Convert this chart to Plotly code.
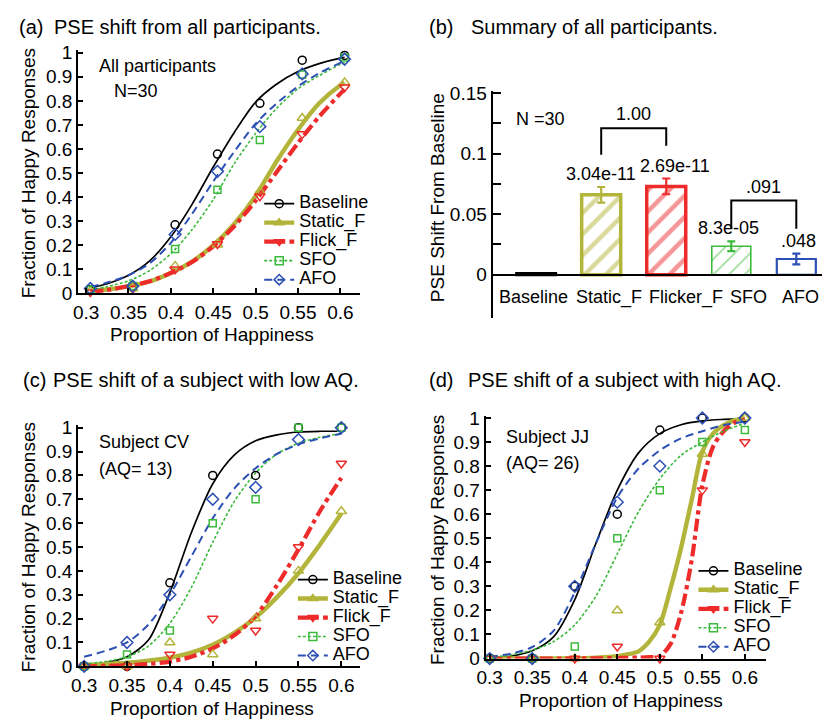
import plotly.graph_objects as go

W, H = 822, 727
FONT = "Liberation Sans, Arial, Helvetica, sans-serif"

SERIES = ["Baseline", "Static_F", "Flick_F", "SFO", "AFO"]

# ---------------- panel (a): all participants ----------------
a_x = [0.305, 0.355, 0.405, 0.455, 0.505, 0.555, 0.605]
a_baseline = [0.015, 0.03, 0.285, 0.579, 0.79, 0.969, 0.989]
a_static = [0.01, 0.02, 0.114, 0.202, 0.424, 0.729, 0.877]
a_flick = [0.005, 0.02, 0.10, 0.205, 0.404, 0.662, 0.857]
a_sfo = [0.015, 0.03, 0.184, 0.431, 0.637, 0.91, 0.98]
a_afo = [0.02, 0.03, 0.245, 0.507, 0.693, 0.912, 0.973]

a_fit_x = [0.305, 0.325, 0.35, 0.375, 0.4, 0.425, 0.45, 0.475, 0.5, 0.525, 0.55, 0.575, 0.6, 0.605]
a_fit_baseline = [0.024, 0.04, 0.075, 0.135, 0.235, 0.37, 0.525, 0.67, 0.795, 0.87, 0.922, 0.955, 0.978, 0.981]
a_fit_static = [0.01, 0.016, 0.03, 0.05, 0.085, 0.132, 0.2, 0.29, 0.405, 0.55, 0.68, 0.79, 0.865, 0.875]
a_fit_flick = [0.008, 0.014, 0.03, 0.05, 0.085, 0.13, 0.195, 0.28, 0.385, 0.505, 0.625, 0.735, 0.83, 0.847]
a_fit_sfo = [0.015, 0.028, 0.052, 0.095, 0.165, 0.265, 0.39, 0.54, 0.665, 0.77, 0.85, 0.905, 0.952, 0.958]
a_fit_afo = [0.027, 0.045, 0.075, 0.125, 0.21, 0.33, 0.465, 0.59, 0.705, 0.79, 0.86, 0.915, 0.958, 0.965]

# ---------------- panel (b): PSE shift summary ----------------
b_conditions = ["Baseline", "Static_F", "Flicker_F", "SFO", "AFO"]
b_shift = [0.001, 0.066, 0.073, 0.0235, 0.013]
b_err = [0.0, 0.0065, 0.0065, 0.004, 0.0045]
b_pvals = ["", "3.04e-11", "2.69e-11", "8.3e-05", ".048"]
b_pair_left = [1, 3]
b_pair_right = [2, 4]
b_pair_p = ["1.00", ".091"]

# ---------------- panel (c): subject CV ----------------
c_x = [0.3, 0.35, 0.4, 0.45, 0.5, 0.55, 0.6]
c_baseline = [0.0, 0.0, 0.35, 0.8, 0.8, 1.0, 1.0]
c_static = [0.0, 0.0, 0.1, 0.05, 0.2, 0.4, 0.65]
c_flick = [0.0, 0.0, 0.05, 0.2, 0.15, 0.5, 0.85]
c_sfo = [0.0, 0.05, 0.15, 0.6, 0.7, 1.0, 1.0]
c_afo = [0.0, 0.1, 0.3, 0.7, 0.75, 0.95, 1.0]

c_fit_x = [0.3, 0.325, 0.35, 0.375, 0.4, 0.425, 0.45, 0.475, 0.5, 0.525, 0.55, 0.575, 0.6]
c_fit_baseline = [0.005, 0.015, 0.04, 0.11, 0.31, 0.56, 0.765, 0.885, 0.945, 0.97, 0.982, 0.985, 0.985]
c_fit_static = [0.005, 0.01, 0.015, 0.024, 0.036, 0.057, 0.09, 0.14, 0.205, 0.29, 0.39, 0.51, 0.64]
c_fit_flick = [0.0, 0.002, 0.005, 0.01, 0.02, 0.04, 0.075, 0.13, 0.21, 0.34, 0.49, 0.65, 0.79]
c_fit_sfo = [0.01, 0.02, 0.04, 0.085, 0.18, 0.33, 0.52, 0.69, 0.81, 0.89, 0.935, 0.96, 0.975]
c_fit_afo = [0.04, 0.065, 0.10, 0.175, 0.30, 0.46, 0.62, 0.745, 0.83, 0.89, 0.93, 0.955, 0.975]

# ---------------- panel (d): subject JJ ----------------
d_x = [0.3, 0.35, 0.4, 0.45, 0.5, 0.55, 0.6]
d_baseline = [0.0, 0.0, 0.3, 0.6, 0.95, 1.0, 1.0]
d_static = [0.0, 0.0, 0.0, 0.2, 0.15, 0.85, 1.0]
d_flick = [0.0, 0.0, 0.0, 0.05, 0.0, 0.7, 0.9]
d_sfo = [0.0, 0.0, 0.05, 0.5, 0.7, 0.9, 0.95]
d_afo = [0.0, 0.0, 0.3, 0.65, 0.8, 1.0, 1.0]

d_fit_x = [0.3, 0.325, 0.35, 0.375, 0.4, 0.425, 0.45, 0.475, 0.5, 0.525, 0.55, 0.575, 0.6]
d_fit_baseline = [0.004, 0.01, 0.032, 0.09, 0.245, 0.48, 0.70, 0.855, 0.935, 0.972, 0.988, 0.994, 0.997]
d_fit_sfo = [0.005, 0.015, 0.035, 0.07, 0.14, 0.26, 0.435, 0.61, 0.747, 0.845, 0.90, 0.945, 0.978]
d_fit_afo = [0.008, 0.02, 0.048, 0.115, 0.275, 0.48, 0.67, 0.79, 0.865, 0.915, 0.945, 0.97, 0.985]
d_fit_steep_x = [0.3, 0.35, 0.4, 0.425, 0.45, 0.4625, 0.475, 0.4875, 0.5, 0.5125, 0.525,
                 0.5375, 0.55, 0.5625, 0.575, 0.5875, 0.6]
d_fit_static = [0.0, 0.0, 0.001, 0.004, 0.01, 0.018, 0.03, 0.07, 0.14, 0.29, 0.46,
                0.66, 0.86, 0.935, 0.97, 0.99, 0.998]
d_fit_flick = [0.0, 0.0, 0.0, 0.001, 0.002, 0.003, 0.004, 0.006, 0.01, 0.06, 0.19,
               0.41, 0.72, 0.88, 0.945, 0.98, 0.995]

x_ticks = [0.3, 0.35, 0.4, 0.45, 0.5, 0.55, 0.6]
x_ticktext = ["0.3", "0.35", "0.4", "0.45", "0.5", "0.55", "0.6"]
y_ticks = [0, 0.1, 0.2, 0.3, 0.4, 0.5, 0.6, 0.7, 0.8, 0.9, 1.0]
y_ticktext = ["0", "0.1", "0.2", "0.3", "0.4", "0.5", "0.6", "0.7", "0.8", "0.9", "1"]
b_yticks = [0, 0.025, 0.05, 0.075, 0.1, 0.125, 0.15]
b_yticktext = ["0", "", "0.05", "", "0.1", "", "0.15"]

# ---------------- styles ----------------
COLOR = {"Baseline": "#000000", "Static_F": "#B3B43A", "Flick_F": "#EE2B2B",
         "SFO": "#3CBA3C", "AFO": "#2D50B4"}
LINE = {
    "Baseline": dict(width=1.7, dash="solid"),
    "Static_F": dict(width=4.4, dash="solid"),
    "Flick_F": dict(width=4.2, dash="dashdot"),
    "SFO": dict(width=1.6, dash="3px,2px"),
    "AFO": dict(width=2.0, dash="8px,5px"),
}
MARK = {"Baseline": ("circle-open", 8), "Static_F": ("triangle-up-open", 9),
        "Flick_F": ("triangle-down-open", 9), "SFO": ("square-open", 7),
        "AFO": ("diamond-open", 9)}
LEG_MARK = {"Baseline": "circle-open", "Static_F": "triangle-up",
            "Flick_F": "triangle-down", "SFO": "square-open", "AFO": "diamond-open"}


def px_x(px):
    return px / W


def px_y(py):
    return 1 - py / H


fig = go.Figure()


def add_panel(xa, ya, legend, pts_x, pts, fits):
    # fitted psychometric curves
    for name in SERIES:
        fx, fy = fits[name]
        fig.add_trace(go.Scatter(
            x=fx, y=fy, mode="lines", xaxis=xa, yaxis=ya, showlegend=False,
            line=dict(color=COLOR[name], shape="spline", smoothing=0.8, **LINE[name]),
            cliponaxis=False, hoverinfo="skip"))
    # observed proportions
    for name in SERIES:
        sym, size = MARK[name]
        fig.add_trace(go.Scatter(
            x=pts_x, y=pts[name], mode="markers", xaxis=xa, yaxis=ya, showlegend=False,
            marker=dict(symbol=sym, size=size, color=COLOR[name],
                        line=dict(color=COLOR[name], width=1.5)),
            cliponaxis=False))
    # legend keys (line + marker)
    for name in SERIES:
        fig.add_trace(go.Scatter(
            x=[None], y=[None], mode="lines+markers", xaxis=xa, yaxis=ya,
            name='<span style="font-size:18px">%s</span>' % name, legend=legend,
            line=dict(color=COLOR[name], **LINE[name]),
            marker=dict(symbol=LEG_MARK[name], size=8, color=COLOR[name],
                        line=dict(color=COLOR[name], width=1.5))))


add_panel("x", "y", "legend", a_x,
          dict(zip(SERIES, [a_baseline, a_static, a_flick, a_sfo, a_afo])),
          dict(zip(SERIES, [(a_fit_x, a_fit_baseline), (a_fit_x, a_fit_static),
                            (a_fit_x, a_fit_flick), (a_fit_x, a_fit_sfo),
                            (a_fit_x, a_fit_afo)])))
add_panel("x3", "y3", "legend2", c_x,
          dict(zip(SERIES, [c_baseline, c_static, c_flick, c_sfo, c_afo])),
          dict(zip(SERIES, [(c_fit_x, c_fit_baseline), (c_fit_x, c_fit_static),
                            (c_fit_x, c_fit_flick), (c_fit_x, c_fit_sfo),
                            (c_fit_x, c_fit_afo)])))
add_panel("x4", "y4", "legend3", d_x,
          dict(zip(SERIES, [d_baseline, d_static, d_flick, d_sfo, d_afo])),
          dict(zip(SERIES, [(d_fit_x, d_fit_baseline), (d_fit_steep_x, d_fit_static),
                            (d_fit_steep_x, d_fit_flick), (d_fit_x, d_fit_sfo),
                            (d_fit_x, d_fit_afo)])))

# ---------------- bars of panel (b) ----------------
BAR_COLOR = ["#000000", "#B3B43A", "#EE2B2B", "#3CBA3C", "#2D50B4"]
BAR_LINE = [3, 3.5, 3.5, 1.6, 2.2]
BAR_PATTERN = ["", "/", "/", "/", ""]
BAR_PAT_SIZE = [10, 15, 15, 11, 10]
BAR_PAT_SOLID = [0.2, 0.3, 0.3, 0.16, 0.2]
for i, cond in enumerate(b_conditions):
    fig.add_trace(go.Bar(
        x=[cond], y=[b_shift[i]], xaxis="x2", yaxis="y2", width=0.6, showlegend=False,
        marker=dict(color="white", line=dict(color=BAR_COLOR[i], width=BAR_LINE[i]),
                    pattern=dict(shape=BAR_PATTERN[i], fgcolor=BAR_COLOR[i], bgcolor="white",
                                 size=BAR_PAT_SIZE[i], solidity=BAR_PAT_SOLID[i])),
        error_y=dict(type="data", array=[b_err[i]], visible=b_err[i] > 0,
                     color=BAR_COLOR[i], thickness=2.2, width=4)))

# ---------------- axes ----------------
AX = dict(showline=True, linecolor="black", linewidth=2, ticks="inside", ticklen=5,
          tickwidth=1.5, tickcolor="black", showgrid=False, zeroline=False,
          tickfont=dict(family=FONT, size=19, color="black"), fixedrange=True)

layout = dict(
    width=W, height=H, margin=dict(l=0, r=0, t=0, b=0),
    paper_bgcolor="white", plot_bgcolor="white", barmode="overlay",
    font=dict(family=FONT, size=19, color="black"),
)

# (a)
layout["xaxis"] = dict(AX, domain=[px_x(70), px_x(355)], range=[0.2907, 0.6233], anchor="y",
                       tickvals=x_ticks, ticktext=x_ticktext, ticklabelstandoff=1)
layout["yaxis"] = dict(AX, domain=[px_y(293), px_y(43.5)], range=[0, 1.01], anchor="x",
                       tickvals=y_ticks, ticktext=y_ticktext)
# (c)
layout["xaxis3"] = dict(AX, domain=[px_x(70), px_x(355)], range=[0.2931, 0.6219], anchor="y3",
                        tickvals=x_ticks, ticktext=x_ticktext, ticklabelstandoff=1)
layout["yaxis3"] = dict(AX, domain=[px_y(676), px_y(428.5)], range=[0, 1.01], anchor="x3",
                        tickvals=y_ticks, ticktext=y_ticktext)
# (d)
layout["xaxis4"] = dict(AX, domain=[px_x(482), px_x(765)], range=[0.2953, 0.6244], anchor="y4",
                        tickvals=x_ticks, ticktext=x_ticktext, ticklabelstandoff=1)
layout["yaxis4"] = dict(AX, domain=[px_y(668), px_y(418.5)], range=[0, 1.01], anchor="x4",
                        tickvals=y_ticks, ticktext=y_ticktext)
# (b): category axis drawn along y = 0, condition names written beneath it
b_yrange = [-0.0355, 0.152]
b_ydom = [px_y(318), px_y(85)]
b_zero = b_ydom[0] + (0 - b_yrange[0]) / (b_yrange[1] - b_yrange[0]) * (b_ydom[1] - b_ydom[0])
layout["xaxis2"] = dict(AX, domain=[px_x(489), 1.0], range=[-0.669, 4.395], type="category",
                        anchor="free", position=b_zero, ticks="", showticklabels=False,
                        categoryorder="array", categoryarray=b_conditions)
layout["yaxis2"] = dict(AX, domain=b_ydom, range=b_yrange, anchor="x2", ticklen=8,
                        tickvals=b_yticks, ticktext=b_yticktext)

# legends
LEG = dict(xanchor="left", yanchor="top", bgcolor="rgba(0,0,0,0)", borderwidth=0,
           font=dict(family=FONT, size=12, color="black"), itemwidth=30,
           itemclick=False, itemdoubleclick=False)
layout["legend"] = dict(LEG, x=px_x(253), y=px_y(186))
layout["legend2"] = dict(LEG, x=px_x(287), y=px_y(572))
layout["legend3"] = dict(LEG, x=px_x(692), y=px_y(563))

fig.update_layout(**layout)

# ---------------- text ----------------
ann = []


def text(x, y, s, size=19, xanchor="left", angle=0):
    ann.append(dict(x=px_x(x), y=px_y(y), xref="paper", yref="paper", text=s,
                    showarrow=False, xanchor=xanchor, yanchor="middle", textangle=angle,
                    font=dict(family=FONT, size=size, color="black")))


# panel headings
text(8, 19, "(a)", size=20)
text(43, 19, "PSE shift from all participants.", size=20)
text(423, 19, "(b)", size=20)
text(465, 19, "Summary of all participants.", size=20)
text(12, 382, "(c)", size=20)
text(42, 382, "PSE shift of a subject with low AQ.", size=20)
text(423, 382, "(d)", size=20)
text(462, 382, "PSE shift of a subject with high AQ.", size=20)

# axis titles
text(20, 170, "Fraction of Happy Responses", xanchor="center", angle=-90)
text(205, 335, "Proportion of Happiness", xanchor="center")
text(434, 195, "PSE Shift From Baseline", xanchor="center", angle=-90)
text(20, 554, "Fraction of Happy Responses", xanchor="center", angle=-90)
text(205, 719, "Proportion of Happiness", xanchor="center")
text(433, 546, "Fraction of Happy Responses", xanchor="center", angle=-90)
text(619, 711, "Proportion of Happiness", xanchor="center")

# condition names under the bars
COND_LABEL_X = [530, 607, 684, 748, 800]
for cx, cond in zip(COND_LABEL_X, b_conditions):
    text(cx, 297, cond, size=18, xanchor="center")

# in-plot notes
text(89, 60, "All participants", size=18)
text(104, 85, "N=30", size=18)
text(511, 114, "N =30", size=18)
text(89, 446, "Subject CV", size=18)
text(89, 473, "(AQ= 13)", size=18)
text(500, 440, "Subject JJ", size=18)
text(500, 467, "(AQ= 26)", size=18)

# p-values over the bars
P_SHIFT = [0, 0, 9, -3, 2]
for i, p in enumerate(b_pvals):
    if p:
        ann.append(dict(x=i, y=b_shift[i] + b_err[i], xref="x2", yref="y2", text=p,
                        showarrow=False, xanchor="center", yanchor="bottom", yshift=1,
                        xshift=P_SHIFT[i], font=dict(family=FONT, size=18, color="black")))

# comparison brackets
BR_TOP = [0.121, 0.0613]
BR_LEFT_FOOT = [0.0992, 0.038]
BR_RIGHT_FOOT = [0.1065, 0.038]
shapes = []
for k in range(len(b_pair_p)):
    i0, i1 = b_pair_left[k], b_pair_right[k]
    path = "M %g,%g L %g,%g L %g,%g L %g,%g" % (i0, BR_LEFT_FOOT[k], i0, BR_TOP[k],
                                                i1, BR_TOP[k], i1, BR_RIGHT_FOOT[k])
    shapes.append(dict(type="path", xref="x2", yref="y2", path=path,
                       line=dict(color="black", width=2)))
    ann.append(dict(x=(i0 + i1) / 2, y=BR_TOP[k], xref="x2", yref="y2", text=b_pair_p[k],
                    showarrow=False, xanchor="center", yanchor="bottom", yshift=2,
                    font=dict(family=FONT, size=18, color="black")))

fig.update_layout(annotations=ann, shapes=shapes)

fig.write_html("out.html")
